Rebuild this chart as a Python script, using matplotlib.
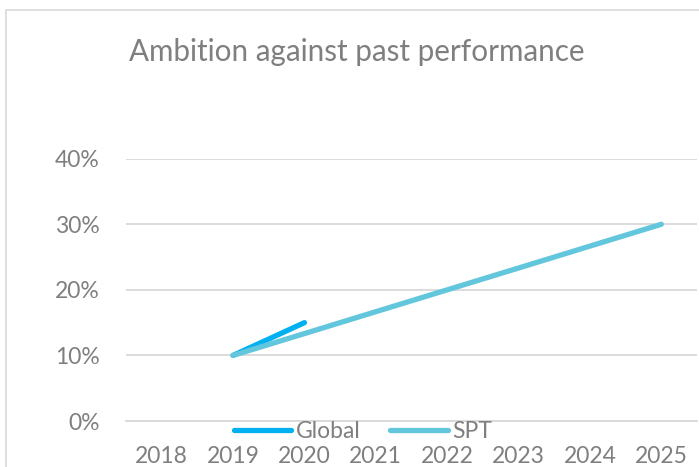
import matplotlib.pyplot as plt
from matplotlib.patches import Rectangle
from matplotlib.ticker import PercentFormatter

years = ['2018', '2019', '2020', '2021', '2022', '2023', '2024', '2025']
global_vals = [None, 0.10, 0.15, None, None, None, None, None]
spt_vals = [None, 0.10, 0.1333, 0.1667, 0.20, 0.2333, 0.2667, 0.30]

plt.rcParams['font.family'] = ['Lato', 'DejaVu Sans']
grey = '#7f7f7f'

fig = plt.figure(figsize=(6.99, 4.67), dpi=100)
fig.patches.append(Rectangle((6 / 699, -0.2), 1.2, 1.2 - 10 / 467, transform=fig.transFigure,
                             fill=False, edgecolor='#d9d9d9', linewidth=1.2))
ax = fig.add_axes([126 / 699, 1 - 421 / 467, (697 - 126) / 699, (421 - 158.7) / 467])

x = list(range(len(years)))
gx = [i for i, v in zip(x, global_vals) if v is not None]
gy = [v for v in global_vals if v is not None]
sx = [i for i, v in zip(x, spt_vals) if v is not None]
sy = [v for v in spt_vals if v is not None]

ax.plot(gx, gy, color='#00b0f0', lw=3.8, solid_capstyle='round', label='Global')
ax.plot(sx, sy, color='#62c6dc', lw=3.8, solid_capstyle='round', label='SPT')

ax.set_xlim(-0.5, len(years) - 0.5)
ax.set_ylim(0, 0.4)
ax.set_yticks([0, 0.1, 0.2, 0.3, 0.4])
ax.yaxis.set_major_formatter(PercentFormatter(1.0, decimals=0))
ax.set_xticks(x)
ax.set_xticklabels(years)
ax.tick_params(length=0, colors=grey, labelsize=16.5)
ax.tick_params(axis='y', pad=19)
ax.tick_params(axis='x', pad=18)
ax.grid(axis='y', color='#d9d9d9', lw=1.3)
ax.set_axisbelow(True)
for s in ['top', 'right', 'left']:
    ax.spines[s].set_visible(False)
ax.spines['bottom'].set_color('#d9d9d9')
ax.spines['bottom'].set_linewidth(1.3)

fig.text(357 / 699, 1 - 52 / 467, 'Ambition against past performance', ha='center', va='center',
         fontsize=21.3, color=grey)

leg = ax.legend(ncol=2, loc='center', bbox_to_anchor=(363 / 699, 1 - 432 / 467),
                bbox_transform=fig.transFigure, frameon=False, fontsize=16.5,
                handlelength=2.5, handletextpad=0.2, columnspacing=1.3)
for t in leg.get_texts():
    t.set_color(grey)

fig.savefig('out.png', dpi=100)
